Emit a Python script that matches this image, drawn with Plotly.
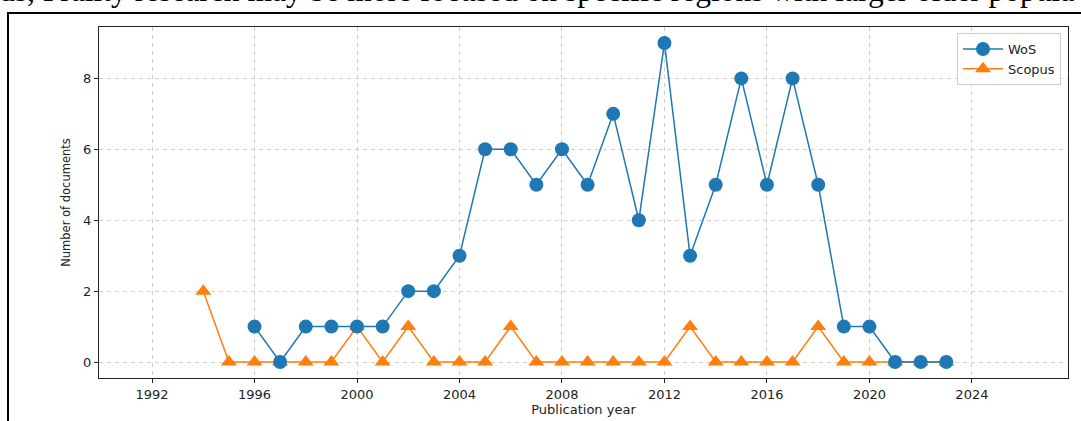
import plotly.graph_objects as go

wos_years = list(range(1996, 2024))
wos_counts = [1, 0, 1, 1, 1, 1, 2, 2, 3, 6, 6, 5, 6, 5, 7, 4, 9, 3, 5, 8, 5, 8, 5, 1, 1, 0, 0, 0]

scopus_years = list(range(1994, 2024))
scopus_counts = [2, 0, 0, 0, 0, 0, 1, 0, 1, 0, 0, 0, 1, 0, 0, 0, 0, 0, 0, 1, 0, 0, 0, 0, 1, 0, 0, 0, 0, 0]

x_ticks = [1992, 1996, 2000, 2004, 2008, 2012, 2016, 2020, 2024]
y_ticks = [0, 2, 4, 6, 8]

caption = "ds, Frailty research may be more focused on specific regions with larger older popula"

W, H = 1081, 421
L, R, T, B = 99, 13, 27, 43
pw, ph = W - L - R, H - T - B

def px_x(p):
    return (p - L) / pw

def px_y(p):
    return 1 - (p - T) / ph

fig = go.Figure()
fig.add_trace(go.Scatter(
    x=scopus_years, y=scopus_counts, name="Scopus", mode="lines+markers",
    line=dict(color="#ff7f0e", width=1.5),
    marker=dict(symbol="triangle-up", size=14, color="#ff7f0e"),
    legendrank=2,
))
fig.add_trace(go.Scatter(
    x=wos_years, y=wos_counts, name="WoS", mode="lines+markers",
    line=dict(color="#1f77b4", width=1.5),
    marker=dict(symbol="circle", size=14, color="#1f77b4"),
    legendrank=1,
))

axis_common = dict(
    showgrid=True, gridcolor="#cfcfcf", griddash="4px,4px", gridwidth=1,
    zeroline=False, showline=True, linecolor="#222", linewidth=1, mirror=True,
    ticks="outside", ticklen=4, tickcolor="#222",
    tickfont=dict(family="DejaVu Sans", size=13, color="#222"),
)

fig.update_xaxes(range=[1989.93, 2027.75], tickvals=x_ticks, ticktext=[str(v) for v in x_ticks],
                 title=dict(text="Publication year", font=dict(family="DejaVu Sans", size=13, color="#222"), standoff=4),
                 **axis_common)
fig.update_yaxes(range=[-0.45, 9.45], tickvals=y_ticks, ticktext=[str(v) for v in y_ticks],
                 title=dict(text="Number of documents", font=dict(family="DejaVu Sans", size=11.5, color="#222"), standoff=10),
                 **axis_common)

fig.update_layout(
    width=W, height=H,
    margin=dict(l=L, r=R, t=T, b=B, autoexpand=False),
    paper_bgcolor="white", plot_bgcolor="white",
    showlegend=True,
    legend=dict(x=px_x(1061), y=px_y(33), xanchor="right", yanchor="top",
                bgcolor="rgba(255,255,255,0.8)", bordercolor="#cccccc", borderwidth=1,
                itemwidth=40,
                font=dict(family="DejaVu Sans", size=13, color="#222"), tracegroupgap=0),
    shapes=[
        dict(type="line", xref="paper", yref="paper", x0=px_x(8), x1=px_x(8), y0=px_y(12), y1=px_y(430),
             line=dict(color="black", width=2)),
        dict(type="line", xref="paper", yref="paper", x0=px_x(8), x1=px_x(1090), y0=px_y(13), y1=px_y(13),
             line=dict(color="black", width=2)),
    ],
    annotations=[
        dict(text=caption, xref="paper", yref="paper", x=px_x(-3), y=px_y(10), xanchor="left", yanchor="bottom",
             showarrow=False, font=dict(family="Liberation Serif", size=31.5, color="black")),
    ],
)

fig.write_html("out.html", config={"displayModeBar": False},
               post_script="document.body.style.margin='0';document.body.style.overflow='hidden';")
